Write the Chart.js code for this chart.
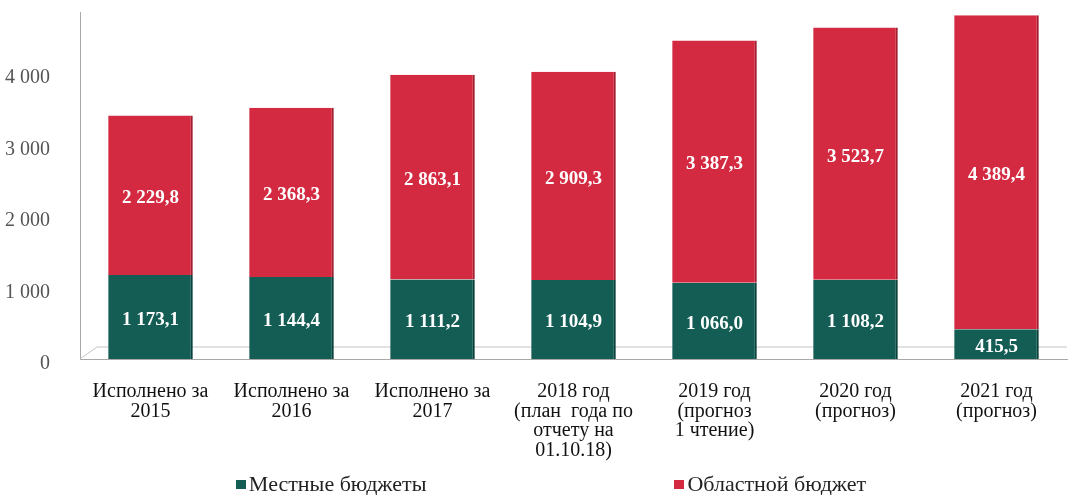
<!DOCTYPE html>
<html lang="ru">
<head>
<meta charset="utf-8">
<script src="https://cdn.jsdelivr.net/npm/chart.js@4.4.0/dist/chart.umd.min.js"></script>
<style>
  html, body { margin: 0; padding: 0; background: #fff; }
  #wrap { position: relative; width: 1068px; height: 495px; }
  #legend {
    position: absolute; left: 0; right: 0; top: 473px;
    display: flex; justify-content: center; gap: 248px; padding-left: 34px;
    font-family: "Liberation Serif", serif; font-size: 22px; line-height: 22px; color: #222;
  }
  #legend span.item { display: flex; align-items: center; }
  #legend span.box { width: 10px; height: 9px; margin-right: 3px; }
</style>
</head>
<body>
<div id="wrap">
  <canvas id="budgetChart" width="1068" height="495"></canvas>
  <div id="legend"></div>
</div>
<script>
// данные графика
const categories = [
  ['Исполнено за', '2015'],
  ['Исполнено за', '2016'],
  ['Исполнено за', '2017'],
  ['2018 год', '(план  года по', 'отчету на', '01.10.18)'],
  ['2019 год', '(прогноз', '1 чтение)'],
  ['2020 год', '(прогноз)'],
  ['2021 год', '(прогноз)']
];
const localBudgets = [1173.1, 1144.4, 1111.2, 1104.9, 1066.0, 1108.2, 415.5];
const regionalBudget = [2229.8, 2368.3, 2863.1, 2909.3, 3387.3, 3523.7, 4389.4];
const yTicks = [0, 1000, 2000, 3000, 4000];

const SERIF = '"Liberation Serif", "Times New Roman", serif';

function fmt(v, dec) {
  let [int, frac] = v.toFixed(dec).split('.');
  int = int.replace(/\B(?=(\d{3})+(?!\d))/g, ' ');
  return frac ? int + ',' + frac : int;
}

// подписи значений внутри столбцов
const valueLabels = {
  id: 'valueLabels',
  afterDatasetsDraw(chart) {
    const ctx = chart.ctx;
    ctx.save();
    ctx.font = 'bold 19px ' + SERIF;
    ctx.fillStyle = '#fff';
    ctx.textAlign = 'center';
    ctx.textBaseline = 'middle';
    chart.data.datasets.forEach((ds, di) => {
      chart.getDatasetMeta(di).data.forEach((bar, i) => {
        ctx.fillText(fmt(ds.data[i], 1), bar.x, (bar.y + bar.base) / 2 + 3);
      });
    });
    ctx.restore();
  }
};

// "пол" псевдо-3D диаграммы
const floor = {
  id: 'floor',
  beforeDatasetsDraw(chart) {
    const { ctx, chartArea: a } = chart;
    ctx.save();
    ctx.strokeStyle = '#c4c4c4';
    ctx.lineWidth = 1;
    ctx.beginPath();
    ctx.moveTo(a.left, a.bottom);
    ctx.lineTo(a.left + 17, a.bottom - 12);
    ctx.lineTo(a.right, a.bottom - 12);
    ctx.stroke();
    ctx.restore();
  }
};

const ctx = document.getElementById('budgetChart').getContext('2d');
const chart = new Chart(ctx, {
  type: 'bar',
  data: {
    labels: categories,
    datasets: [
      {
        label: 'Местные бюджеты',
        data: localBudgets,
        backgroundColor: '#135d55',
        borderColor: '#0b413b',
        borderWidth: { right: 2 },
        barPercentage: 0.6,
        categoryPercentage: 1.0
      },
      {
        label: 'Областной бюджет',
        data: regionalBudget,
        backgroundColor: '#d32a41',
        borderColor: '#a01f31',
        borderWidth: { right: 2 },
        barPercentage: 0.6,
        categoryPercentage: 1.0
      }
    ]
  },
  options: {
    responsive: false,
    animation: false,
    layout: { padding: { top: 12, right: 1, bottom: 30, left: 0 } },
    plugins: {
      legend: { display: false },
      tooltip: { enabled: false }
    },
    scales: {
      x: {
        stacked: true,
        offset: true,
        grid: { display: false },
        border: { display: true, color: '#a8a8a8' },
        ticks: {
          color: '#111',
          font: { family: SERIF, size: 20, lineHeight: 0.98 },
          padding: 15,
          maxRotation: 0,
          autoSkip: false
        },
        afterFit: s => { s.height = 106; }
      },
      y: {
        stacked: true,
        min: 0,
        max: 4850,
        grid: { display: false },
        border: { display: true, color: '#a8a8a8' },
        ticks: {
          color: '#555',
          font: { family: SERIF, size: 20 },
          padding: 22,
          labelOffset: 5,
          callback: v => fmt(v, 0)
        },
        afterBuildTicks: s => { s.ticks = yTicks.map(v => ({ value: v })); },
        afterFit: s => { s.width = 80; s.paddingTop = 0; s.paddingBottom = 0; }
      }
    }
  },
  plugins: [floor, valueLabels]
});

// легенда
document.getElementById('legend').innerHTML = chart.data.datasets.map(ds =>
  '<span class="item"><span class="box" style="background:' + ds.backgroundColor + '"></span>' + ds.label + '</span>'
).join('');
</script>
</body>
</html>
